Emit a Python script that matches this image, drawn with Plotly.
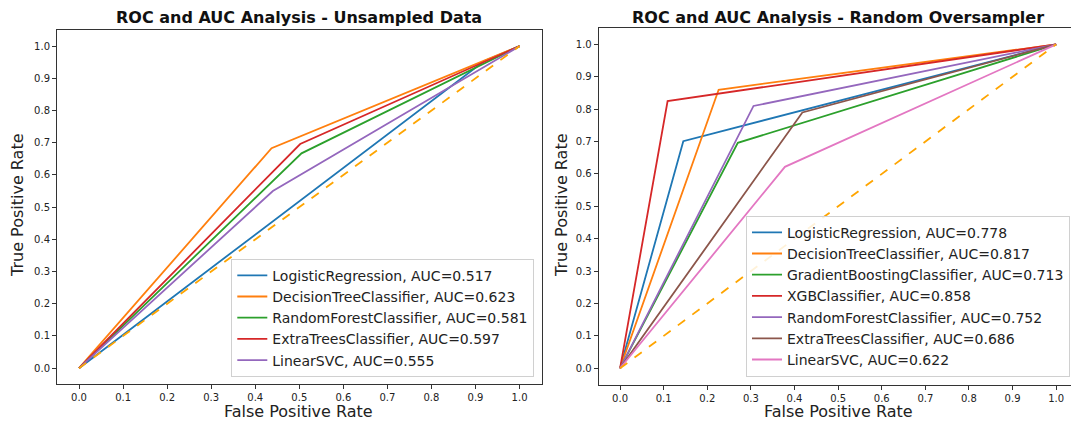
import plotly.graph_objects as go

# ---------------- data ----------------
left_models = ["LogisticRegression", "DecisionTreeClassifier", "RandomForestClassifier",
               "ExtraTreesClassifier", "LinearSVC"]
left_auc = [0.517, 0.623, 0.581, 0.597, 0.555]
left_fpr = [0.92, 0.437, 0.505, 0.502, 0.44]
left_tpr = [0.954, 0.683, 0.667, 0.696, 0.55]

right_models = ["LogisticRegression", "DecisionTreeClassifier", "GradientBoostingClassifier",
                "XGBClassifier", "RandomForestClassifier", "ExtraTreesClassifier", "LinearSVC"]
right_auc = [0.778, 0.817, 0.713, 0.858, 0.752, 0.686, 0.622]
right_fpr = [0.145, 0.226, 0.270, 0.109, 0.306, 0.418, 0.378]
right_tpr = [0.701, 0.860, 0.696, 0.825, 0.810, 0.790, 0.622]

tick_vals = [0.0, 0.1, 0.2, 0.3, 0.4, 0.5, 0.6, 0.7, 0.8, 0.9, 1.0]
tick_text = ["0.0", "0.1", "0.2", "0.3", "0.4", "0.5", "0.6", "0.7", "0.8", "0.9", "1.0"]

titles = ["ROC and AUC Analysis - Unsampled Data", "ROC and AUC Analysis - Random Oversampler"]

tab10 = ["#1f77b4", "#ff7f0e", "#2ca02c", "#d62728", "#9467bd", "#8c564b", "#e377c2"]

FONT = "DejaVu Sans"
W, H = 1071, 421

fig = go.Figure()

def add_panel(models, aucs, fprs, tprs, xa, ya, leg):
    for i, (m, a, f, t) in enumerate(zip(models, aucs, fprs, tprs)):
        fig.add_trace(go.Scatter(
            x=[0.0, f, 1.0], y=[0.0, t, 1.0], mode="lines",
            name=f"{m}, AUC={a:.3f}",
            line=dict(color=tab10[i], width=1.8),
            xaxis=xa, yaxis=ya, legend=leg))
    fig.add_trace(go.Scatter(
        x=[0.0, 1.0], y=[0.0, 1.0], mode="lines", showlegend=False,
        line=dict(color="orange", width=1.8, dash="dash"),
        xaxis=xa, yaxis=ya, legend=leg))

add_panel(left_models, left_auc, left_fpr, left_tpr, "x", "y", "legend")
add_panel(right_models, right_auc, right_fpr, right_tpr, "x2", "y2", "legend2")

def px_x(p):
    return p / W

def px_y(p):
    return 1 - p / H

tick_font = dict(family=FONT, size=10, color="#222")
common_axis = dict(showgrid=False, zeroline=False, showline=True, linecolor="#333",
                   linewidth=1, ticks="outside", ticklen=4, tickcolor="#333",
                   tickwidth=1, tickfont=tick_font, tickvals=tick_vals,
                   ticktext=tick_text)

fig.update_layout(
    width=W, height=H,
    margin=dict(l=0, r=0, t=0, b=0),
    paper_bgcolor="white", plot_bgcolor="white",
    font=dict(family=FONT, color="#222"),
    xaxis=dict(domain=[px_x(57), px_x(541.6)], range=[-0.05, 1.05], anchor="y",
               mirror=True, **common_axis),
    yaxis=dict(domain=[px_y(384.3), px_y(30)], range=[-0.05, 1.05], anchor="x",
               mirror=True, **common_axis),
    xaxis2=dict(domain=[px_x(598.7), 1.0], range=[-0.049, 1.034], anchor="y2",
                mirror=True, **common_axis),
    yaxis2=dict(domain=[px_y(384.5), px_y(28.2)], range=[-0.05, 1.05], anchor="x2",
                mirror=False, **common_axis),
    legend=dict(x=px_x(534.3), y=px_y(376.7), xanchor="right", yanchor="bottom",
                bgcolor="rgba(255,255,255,0.85)", bordercolor="#d0d0d0", borderwidth=1,
                font=dict(family=FONT, size=14, color="#222"), itemwidth=30,
                tracegroupgap=0),
    legend2=dict(x=px_x(1070), y=px_y(376.7), xanchor="right", yanchor="bottom",
                 bgcolor="rgba(255,255,255,0.85)", bordercolor="#d0d0d0", borderwidth=1,
                 font=dict(family=FONT, size=14, color="#222"), itemwidth=30,
                 tracegroupgap=0),
)

annotations = [
    dict(text=f"<b>{titles[0]}</b>", x=px_x(299), y=px_y(17), xref="paper", yref="paper",
         xanchor="center", yanchor="middle", showarrow=False,
         font=dict(family=FONT, size=16, color="#111")),
    dict(text=f"<b>{titles[1]}</b>", x=px_x(838), y=px_y(17), xref="paper", yref="paper",
         xanchor="center", yanchor="middle", showarrow=False,
         font=dict(family=FONT, size=16, color="#111")),
    dict(text="False Positive Rate", x=px_x(298.5), y=px_y(411), xref="paper", yref="paper",
         xanchor="center", yanchor="middle", showarrow=False,
         font=dict(family=FONT, size=16, color="#222")),
    dict(text="False Positive Rate", x=px_x(838), y=px_y(411), xref="paper", yref="paper",
         xanchor="center", yanchor="middle", showarrow=False,
         font=dict(family=FONT, size=16, color="#222")),
    dict(text="True Positive Rate", x=px_x(17), y=px_y(205), xref="paper", yref="paper",
         xanchor="center", yanchor="middle", showarrow=False, textangle=-90,
         font=dict(family=FONT, size=16, color="#222")),
    dict(text="True Positive Rate", x=px_x(561), y=px_y(205), xref="paper", yref="paper",
         xanchor="center", yanchor="middle", showarrow=False, textangle=-90,
         font=dict(family=FONT, size=16, color="#222")),
]
fig.update_layout(annotations=annotations)

fig.write_html("out.html")
